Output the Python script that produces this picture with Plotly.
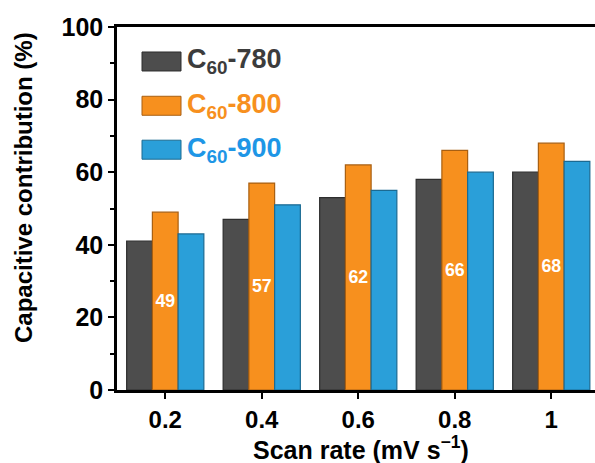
import plotly.graph_objects as go

categories = ["0.2", "0.4", "0.6", "0.8", "1"]
c780 = [41, 47, 53, 58, 60]
c800 = [49, 57, 62, 66, 68]
c900 = [43, 51, 55, 60, 63]
series_names = ["C<sub>60</sub>-780", "C<sub>60</sub>-800", "C<sub>60</sub>-900"]
colors = ["#4d4d4d", "#f7901e", "#2a9fd9"]
edge_colors = ["#2e2e2e", "#a85f12", "#1b6a92"]
text_colors = ["#3c3c3c", "#f7901e", "#1e96e6"]

FONT = "Liberation Sans"

fig = go.Figure()
for name, vals, col, ecol in zip(series_names, [c780, c800, c900], colors, edge_colors):
    is_label = vals is c800
    fig.add_trace(go.Bar(
        x=categories, y=vals, name=name,
        marker=dict(color=col, line=dict(color=ecol, width=1.2)),
        text=[str(v) for v in vals] if is_label else None,
        textposition="inside" if is_label else None,
        insidetextanchor="middle",
        textangle=0,
        textfont=dict(family=FONT, size=18, color="white", weight="bold"),
        showlegend=False,
    ))

# custom legend (large swatches + coloured labels)
leg_y = [0.905, 0.783, 0.662]
for name, col, ecol, tcol, yy in zip(series_names, colors, edge_colors, text_colors, leg_y):
    fig.add_shape(type="rect", xref="paper", yref="paper",
                  x0=(142 - 117) / 478, x1=(181 - 117) / 478,
                  y0=yy - 9.5 / 363, y1=yy + 9.5 / 363,
                  fillcolor=col, line=dict(color=ecol, width=1))
    fig.add_annotation(xref="paper", yref="paper", x=(185 - 117) / 478, y=yy,
                       text=name, showarrow=False, xanchor="left", yanchor="middle",
                       font=dict(family=FONT, size=27, color=tcol, weight="bold"))

# axis titles placed as annotations (positions as in reference)
fig.add_annotation(xref="paper", yref="paper", x=(23 - 117) / 478, y=(390 - 188) / 363,
                   text="Capacitive contribution (%)", textangle=-90, showarrow=False,
                   xanchor="center", yanchor="middle",
                   font=dict(family=FONT, size=24, color="black", weight="bold"))
fig.add_annotation(xref="paper", yref="paper", x=(361 - 117) / 478, y=(390 - 448) / 363,
                   text="Scan rate (mV s<sup>\u22121</sup>)", showarrow=False,
                   xanchor="center", yanchor="middle",
                   font=dict(family=FONT, size=25, color="black", weight="bold"))

fig.update_layout(
    width=595, height=463,
    margin=dict(l=117, r=0, t=27, b=73),
    plot_bgcolor="white", paper_bgcolor="white",
    barmode="group", bargap=0.2, bargroupgap=0,
    font=dict(family=FONT, color="black"),
)
fig.update_xaxes(
    type="category", range=[-0.5, -0.5 + 478 / 96.5], automargin=False,
    showline=True, linecolor="black", linewidth=2.5, mirror=True,
    ticks="outside", ticklen=6, tickwidth=2, tickcolor="black",
    tickfont=dict(family=FONT, size=24, color="black", weight="bold"),
    showgrid=False, zeroline=False,
)
fig.update_yaxes(
    range=[0, 100], dtick=20, automargin=False,
    showline=True, linecolor="black", linewidth=2.5, mirror=False,
    ticks="outside", ticklen=6, tickwidth=2, tickcolor="black",
    minor=dict(dtick=10, ticks="outside", ticklen=4, tickwidth=2, tickcolor="black"),
    tickfont=dict(family=FONT, size=25, color="black", weight="bold"),
    showgrid=False, zeroline=False,
)

fig.write_html("out.html")
